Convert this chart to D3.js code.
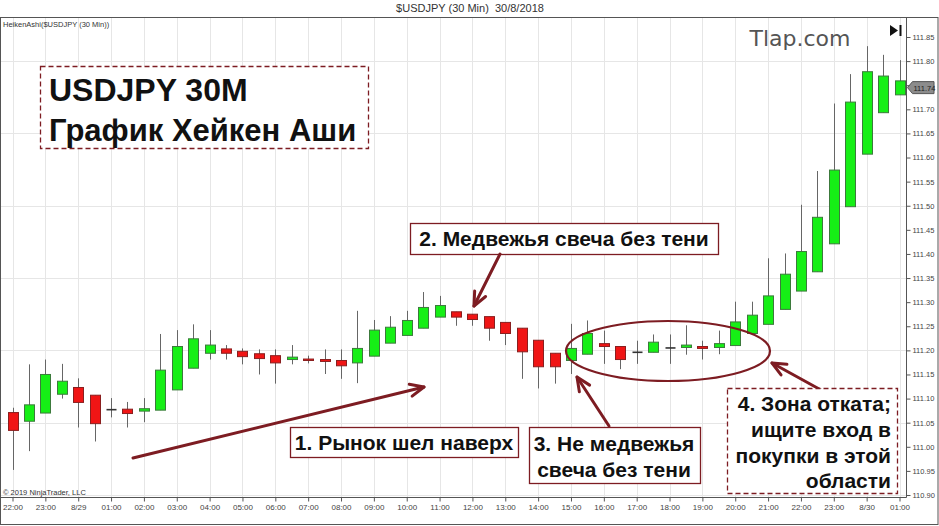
<!DOCTYPE html>
<html><head><meta charset="utf-8">
<script src="https://cdn.jsdelivr.net/npm/d3@7"></script>
<style>body{margin:0;background:#fff}svg{display:block}</style>
</head><body>
<script>
// ---- data ----
const times = ["2018-08-28T22:00","2018-08-28T22:30","2018-08-28T23:00","2018-08-28T23:30",
"2018-08-29T00:00","2018-08-29T00:30","2018-08-29T01:00","2018-08-29T01:30","2018-08-29T02:00","2018-08-29T02:30",
"2018-08-29T03:00","2018-08-29T03:30","2018-08-29T04:00","2018-08-29T04:30","2018-08-29T05:00","2018-08-29T05:30",
"2018-08-29T06:00","2018-08-29T06:30","2018-08-29T07:00","2018-08-29T07:30","2018-08-29T08:00","2018-08-29T08:30",
"2018-08-29T09:00","2018-08-29T09:30","2018-08-29T10:00","2018-08-29T10:30","2018-08-29T11:00","2018-08-29T11:30",
"2018-08-29T12:00","2018-08-29T12:30","2018-08-29T13:00","2018-08-29T13:30","2018-08-29T14:00","2018-08-29T14:30",
"2018-08-29T15:00","2018-08-29T15:30","2018-08-29T16:00","2018-08-29T16:30","2018-08-29T17:00","2018-08-29T17:30",
"2018-08-29T18:00","2018-08-29T18:30","2018-08-29T19:00","2018-08-29T19:30","2018-08-29T20:00","2018-08-29T20:30",
"2018-08-29T21:00","2018-08-29T21:30","2018-08-29T22:00","2018-08-29T22:30","2018-08-29T23:00","2018-08-29T23:30",
"2018-08-30T00:00","2018-08-30T00:30","2018-08-30T01:00"];
const open  = [111.071,111.053,111.070,111.109,111.123,111.107,111.077,111.078,111.074,111.076,
111.118,111.163,111.194,111.203,111.198,111.193,111.189,111.181,111.182,111.181,
111.179,111.174,111.188,111.215,111.231,111.246,111.269,111.280,111.275,111.270,
111.258,111.246,111.221,111.194,111.179,111.192,111.214,111.208,111.196,111.196,
111.205,111.206,111.208,111.206,111.210,111.235,111.254,111.285,111.323,111.363,
111.421,111.498,111.607,111.693,111.730];
const high  = [111.081,111.171,111.181,111.172,111.142,111.107,111.101,111.093,111.101,111.234,
111.242,111.254,111.242,111.211,111.204,111.202,111.202,111.211,111.189,111.202,
111.202,111.282,111.263,111.271,111.282,111.321,111.313,111.280,111.275,111.270,
111.258,111.246,111.221,111.194,111.255,111.262,111.241,111.208,111.220,111.233,
111.233,111.252,111.220,111.241,111.301,111.301,111.391,111.401,111.502,111.572,
111.712,111.773,111.831,111.813,111.802];
const low   = [110.952,110.991,111.070,111.100,111.040,111.011,111.061,111.040,111.051,111.076,
111.118,111.163,111.181,111.181,111.171,111.150,111.131,111.171,111.173,111.151,
111.141,111.132,111.188,111.215,111.231,111.246,111.269,111.251,111.251,111.220,
111.211,111.141,111.121,111.131,111.151,111.192,111.172,111.161,111.172,111.196,
111.172,111.191,111.181,111.192,111.210,111.235,111.254,111.285,111.323,111.363,
111.421,111.498,111.607,111.693,111.730];
const close = [111.034,111.087,111.150,111.136,111.092,111.048,111.077,111.069,111.079,111.159,
111.208,111.224,111.211,111.194,111.187,111.183,111.174,111.186,111.179,111.177,
111.168,111.204,111.242,111.248,111.262,111.289,111.293,111.269,111.264,111.246,
111.235,111.197,111.166,111.166,111.204,111.235,111.208,111.181,111.196,111.217,
111.205,111.211,111.204,111.214,111.259,111.273,111.313,111.358,111.405,111.476,
111.574,111.715,111.778,111.769,111.759];
const yTicks = [110.90,110.95,111.00,111.05,111.10,111.15,111.20,111.25,111.30,111.35,111.40,111.45,111.50,111.55,111.60,111.65,111.70,111.75,111.80,111.85];
const yGrid = [110.90,111.05,111.20,111.35,111.50,111.65,111.80];
const xTickTimes = ["2018-08-28T22:00","2018-08-28T23:00","2018-08-29T00:00","2018-08-29T01:00","2018-08-29T02:00",
"2018-08-29T03:00","2018-08-29T04:00","2018-08-29T05:00","2018-08-29T06:00","2018-08-29T07:00","2018-08-29T08:00",
"2018-08-29T09:00","2018-08-29T10:00","2018-08-29T11:00","2018-08-29T12:00","2018-08-29T13:00","2018-08-29T14:00",
"2018-08-29T15:00","2018-08-29T16:00","2018-08-29T17:00","2018-08-29T18:00","2018-08-29T19:00","2018-08-29T20:00",
"2018-08-29T21:00","2018-08-29T22:00","2018-08-29T23:00","2018-08-30T00:00","2018-08-30T01:00"];
const xTickLabels = ["22:00","23:00","8/29","01:00","02:00","03:00","04:00","05:00","06:00","07:00","08:00",
"09:00","10:00","11:00","12:00","13:00","14:00","15:00","16:00","17:00","18:00","19:00","20:00",
"21:00","22:00","23:00","8/30","01:00"];
const lastPrice = 111.745, lastPriceLabel = "111.74";

// ---- chart ----
const W = 939, H = 526;
const svg = d3.select("body").append("svg").attr("width", W).attr("height", H)
  .style("font-family", "'Liberation Sans', Arial, sans-serif");
const parse = d3.timeParse("%Y-%m-%dT%H:%M");
const x = d3.scaleTime().domain([parse(times[0]), parse(times[times.length-1])]).range([12.5, 899.5]);
const y = d3.scaleLinear().domain([110.90, 111.85]).range([495, 37]);
const plotTop = 17.5, plotBottom = 497.5, axisX = 906.5;

// gridlines
svg.append("g").selectAll("line").data(xTickTimes).join("line")
  .attr("x1", d => Math.round(x(parse(d))) + 0.5).attr("x2", d => Math.round(x(parse(d))) + 0.5)
  .attr("y1", plotTop).attr("y2", plotBottom).attr("stroke", "#e6e6e6");
svg.append("g").selectAll("line").data(yGrid).join("line")
  .attr("x1", 0).attr("x2", axisX).attr("y1", d => Math.round(y(d)) + 0.5).attr("y2", d => Math.round(y(d)) + 0.5)
  .attr("stroke", "#e6e6e6");

// frame
svg.append("text").attr("x", 470).attr("y", 12).attr("text-anchor", "middle").attr("font-size", 11).attr("fill", "#333")
  .text("$USDJPY (30 Min)\u00a0 30/8/2018");
svg.append("rect").attr("x", 0.5).attr("y", plotTop).attr("width", W - 1.5).attr("height", 524.5 - plotTop)
  .attr("fill", "none").attr("stroke", "#555");
svg.append("line").attr("x1", 0).attr("x2", axisX).attr("y1", plotBottom).attr("y2", plotBottom).attr("stroke", "#555");
svg.append("text").attr("x", 3).attr("y", 27).attr("font-size", 7.5).attr("fill", "#333").text("HeikenAshi($USDJPY (30 Min))");
svg.append("text").attr("x", 3).attr("y", 495).attr("font-size", 7.5).attr("fill", "#333").text("© 2019 NinjaTrader, LLC");

// y axis
const yAxis = d3.axisRight(y).tickValues(yTicks).tickFormat(d3.format(".2f")).tickSize(4).tickPadding(2);
const gy = svg.append("g").attr("transform", `translate(${axisX},0)`).call(yAxis);
gy.select(".domain").attr("d", `M0,${plotTop}V${plotBottom}`).attr("stroke", "#555");
gy.selectAll(".tick line").attr("stroke", "#555");
gy.selectAll(".tick text").attr("font-size", 7.5).attr("fill", "#444").attr("font-family", "'Liberation Sans', Arial, sans-serif");

// x axis
const xAxis = d3.axisBottom(x).tickValues(xTickTimes.map(parse))
  .tickFormat((d, i) => xTickLabels[i]).tickSize(4).tickPadding(3);
const gx = svg.append("g").attr("transform", `translate(0,${plotBottom})`).call(xAxis);
gx.select(".domain").remove();
gx.selectAll(".tick line").attr("stroke", "#555");
gx.selectAll(".tick text").attr("font-size", 8).attr("fill", "#444").attr("font-family", "'Liberation Sans', Arial, sans-serif");

// candles
const data = times.map((t, i) => ({t: parse(t), o: open[i], h: high[i], l: low[i], c: close[i]}));
const bw = 10;
const cg = svg.append("g");
cg.selectAll("line.wick").data(data).join("line").attr("class", "wick")
  .attr("x1", d => Math.round(x(d.t)) + 0.5).attr("x2", d => Math.round(x(d.t)) + 0.5)
  .attr("y1", d => y(d.h)).attr("y2", d => y(d.l)).attr("stroke", "#666").attr("stroke-width", 1);
cg.selectAll("rect.body").data(data.filter(d => d.o !== d.c)).join("rect").attr("class", "body")
  .attr("x", d => Math.round(x(d.t)) - bw / 2 + 0.5)
  .attr("y", d => y(Math.max(d.o, d.c)))
  .attr("width", bw)
  .attr("height", d => Math.max(1, y(Math.min(d.o, d.c)) - y(Math.max(d.o, d.c))))
  .attr("fill", d => d.c > d.o ? "#16ef16" : "#f01515")
  .attr("stroke", d => d.c > d.o ? "#3c7a3c" : "#8a1f1f").attr("stroke-width", 1);
cg.selectAll("line.doji").data(data.filter(d => d.o === d.c)).join("line").attr("class", "doji")
  .attr("x1", d => Math.round(x(d.t)) - bw / 2 + 0.5).attr("x2", d => Math.round(x(d.t)) + bw / 2 + 0.5)
  .attr("y1", d => y(d.o)).attr("y2", d => y(d.o)).attr("stroke", "#333").attr("stroke-width", 1.6);

// last price marker
const ly = y(lastPrice);
svg.append("path").attr("d", `M${axisX + 1},${ly}L${axisX + 6},${ly - 6}H934V${ly + 6}H${axisX + 6}Z`)
  .attr("fill", "#8c8c8c").attr("stroke", "#555");
svg.append("text").attr("x", axisX + 7).attr("y", ly + 3).attr("font-size", 7.5).attr("fill", "#222").text(lastPriceLabel);

// go-to-end icon
svg.append("path").attr("d", "M890,25L898,30.5L890,36Z").attr("fill", "#111");
svg.append("rect").attr("x", 899.5).attr("y", 25).attr("width", 2).attr("height", 11).attr("fill", "#111");

// watermark
svg.append("text").attr("x", 800).attr("y", 46).attr("text-anchor", "middle").attr("font-size", 22)
  .attr("fill", "#555").attr("font-family", "'DejaVu Sans', sans-serif").text("Tlap.com");

// ---- annotations ----
const ac = "#7d1c22";
const ann = svg.append("g");
function box(x0, y0, w, h, dashed) {
  ann.append("rect").attr("x", x0 + 0.5).attr("y", y0 + 0.5).attr("width", w).attr("height", h)
    .attr("fill", "#fff").attr("stroke", ac).attr("stroke-width", 1.3)
    .attr("stroke-dasharray", dashed ? "5,3" : null);
}
function txt(xp, yp, s, size, anchor) {
  ann.append("text").attr("x", xp).attr("y", yp).attr("font-size", size).attr("font-weight", "bold")
    .attr("text-anchor", anchor || "start").attr("fill", "#111").text(s);
}
function arrow(x1, y1, x2, y2) {
  ann.append("line").attr("x1", x1).attr("y1", y1).attr("x2", x2).attr("y2", y2)
    .attr("stroke", ac).attr("stroke-width", 3).attr("stroke-linecap", "round");
  const a = Math.atan2(y2 - y1, x2 - x1), L = 15, s = 0.42;
  ann.append("path").attr("d", `M${x2 - L * Math.cos(a - s)},${y2 - L * Math.sin(a - s)}L${x2},${y2}L${x2 - L * Math.cos(a + s)},${y2 - L * Math.sin(a + s)}`)
    .attr("fill", "none").attr("stroke", ac).attr("stroke-width", 3).attr("stroke-linecap", "round").attr("stroke-linejoin", "round");
}
box(40, 66, 328, 82, true);
txt(49, 101, "USDJPY 30M", 32);
txt(49, 141, "График Хейкен Аши", 31);

box(410, 223, 308, 31, false);
txt(564, 246, "2. Медвежья свеча без тени", 21, "middle");
arrow(500, 254, 474, 306);

arrow(133, 458, 424, 387);
box(290, 427, 228, 30, false);
txt(404, 450, "1. Рынок шел наверх", 21, "middle");

box(529, 427, 171, 56, false);
txt(614, 451, "3. Не медвежья", 21, "middle");
txt(614, 477, "свеча без тени", 21, "middle");
arrow(609, 426, 577, 377);

ann.append("ellipse").attr("cx", 668).attr("cy", 351).attr("rx", 102).attr("ry", 30)
  .attr("fill", "none").attr("stroke", ac).attr("stroke-width", 2.2);
arrow(821, 390, 772, 363);

box(727, 388, 170, 105, true);
txt(891, 411, "4. Зона отката;", 21, "end");
txt(891, 437, "ищите вход в", 21, "end");
txt(891, 463, "покупки в этой", 21, "end");
txt(891, 488, "области", 21, "end");
</script>
</body></html>
